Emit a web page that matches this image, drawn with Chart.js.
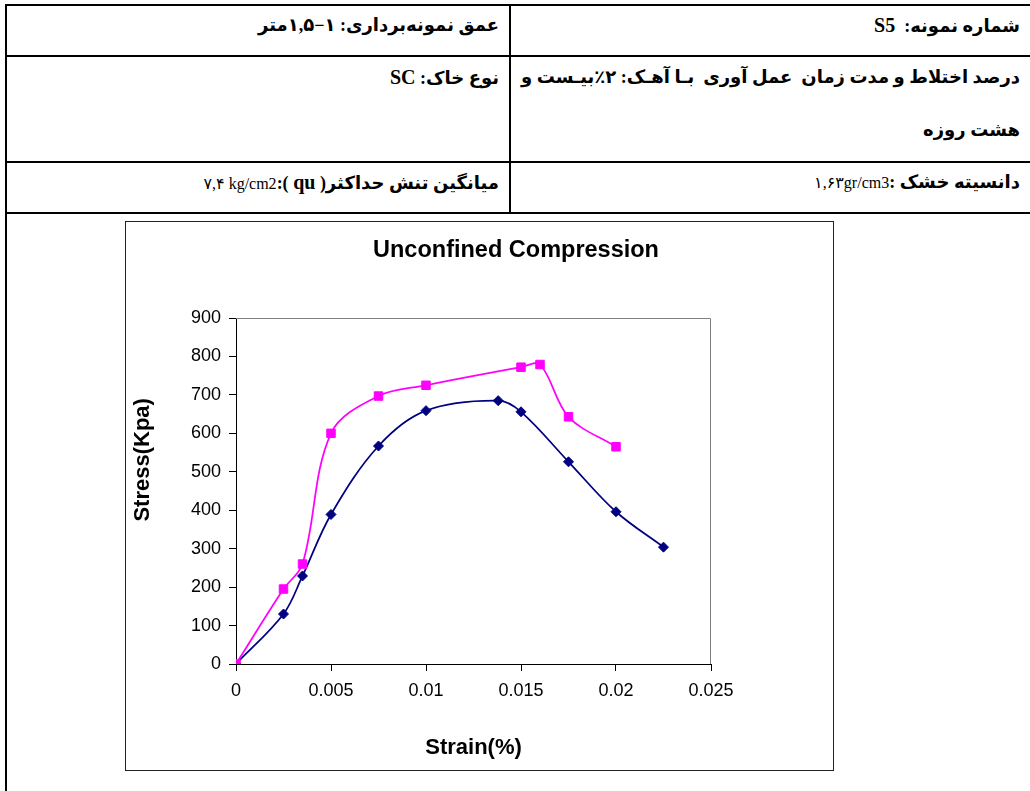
<!DOCTYPE html>
<html lang="fa">
<head>
<meta charset="UTF-8">
<style>
  body { margin: 0; width: 1030px; height: 791px; overflow: hidden; background: #fff; position: relative; }
  .ln { position: absolute; background: #000; }
  .txt { position: absolute; direction: rtl; text-align: right; white-space: nowrap; color: #000;
         font-family: "Liberation Serif", "DejaVu Sans"; font-weight: bold; font-size: 18px; line-height: 24px; }
  .lat { font-size: 20px; }
  .reg { font-weight: normal; font-size: 16px; }
  #frame { position: absolute; left: 125px; top: 221px; width: 707px; height: 548px; border: 1px solid #222; }
  #frame canvas { display: block; }
</style>
</head>
<body>
<script src="https://cdn.jsdelivr.net/npm/chart.js"></script>

<!-- table grid -->
<div class="ln" style="left:5px; top:4px; width:1025px; height:2px"></div>
<div class="ln" style="left:5px; top:55px; width:1025px; height:2px"></div>
<div class="ln" style="left:5px; top:161px; width:1025px; height:2px"></div>
<div class="ln" style="left:5px; top:212px; width:1025px; height:2px"></div>
<div class="ln" style="left:5px; top:4px; width:2px; height:787px"></div>
<div class="ln" style="left:509px; top:4px; width:2px; height:210px"></div>

<!-- table text -->
<div class="txt" style="right:10px; top:13px">شماره نمونه:&nbsp; <span class="lat">S5</span></div>
<div class="txt" style="right:531px; top:13px">عمق نمونه‌برداری: ۱−۱,۵متر</div>
<div class="txt" style="right:10px; top:65px">درصد اختلاط و مدت زمان&nbsp; عمل آوری&nbsp; بـا آهـک: ۲٪بیـست و</div>
<div class="txt" style="right:10px; top:118px">هشت روزه</div>
<div class="txt" style="right:531px; top:65px">نوع خاک: <span class="lat">SC</span></div>
<div class="txt" style="right:10px; top:170px">دانسیته خشک :<span class="reg">۱,۶۳gr/cm3</span></div>
<div class="txt" style="right:531px; top:170px">میانگین تنش حداکثر( <span class="lat">qu</span> ):<span class="reg">۷,۴ kg/cm2</span></div>

<div id="frame"><canvas id="chart" width="707" height="548"></canvas></div>

<script>
    const blueStrain = [0, 0.0025, 0.0035, 0.005, 0.0075, 0.01, 0.0138, 0.015, 0.0175, 0.02, 0.0225];
    const blueStress = [0, 130, 229, 389, 567, 659, 685, 656, 526, 396, 304];
    const pinkStrain = [0, 0.0025, 0.0035, 0.005, 0.0075, 0.01, 0.015, 0.016, 0.0175, 0.02];
    const pinkStress = [0, 195, 260, 600, 697, 725, 772, 779, 643, 565];

    const xTickLabels = ['0', '0.005', '0.01', '0.015', '0.02', '0.025'];
    const yTickLabels = ['0', '100', '200', '300', '400', '500', '600', '700', '800', '900'];

    function toPoints(xs, ys) {
        return xs.map((x, i) => ({x: x, y: ys[i]}));
    }

    const plotBits = {
        id: 'plotBits',
        beforeDatasetsDraw(chart) {
            // grey top/right edge of the plot area
            const {ctx, chartArea: a} = chart;
            ctx.save();
            ctx.strokeStyle = '#808080';
            ctx.lineWidth = 1;
            ctx.beginPath();
            ctx.moveTo(a.left, a.top + 0.5);
            ctx.lineTo(a.right - 0.5, a.top + 0.5);
            ctx.lineTo(a.right - 0.5, a.bottom);
            ctx.stroke();
            ctx.restore();
        },
        afterDraw(chart) {
            const {ctx, chartArea: a} = chart;
            ctx.save();
            ctx.fillStyle = '#000';
            ctx.textAlign = 'center';
            ctx.textBaseline = 'middle';
            // chart title, Excel put it right of the plot centre
            ctx.font = 'bold 23.5px "Liberation Sans"';
            ctx.fillText('Unconfined Compression', 390, 29);
            // y title sits above the middle like in the original
            ctx.translate(17, a.top + (a.bottom - a.top) * 0.41);
            ctx.rotate(-Math.PI / 2);
            ctx.font = 'bold 22px "Liberation Sans"';
            ctx.fillText('Stress(Kpa)', 0, 0);
            ctx.restore();
        }
    };

    Chart.defaults.color = '#000';
    Chart.defaults.font.family = '"Liberation Sans", Arial, sans-serif';

    new Chart(document.getElementById('chart'), {
        type: 'line',
        data: {
            datasets: [
                {
                    label: 'pink',
                    data: toPoints(pinkStrain, pinkStress),
                    borderColor: '#FF00FF',
                    backgroundColor: '#FF00FF',
                    borderWidth: 1.75,
                    pointStyle: 'rect',
                    pointRadius: 6,
                    pointBorderWidth: 1,
                    tension: 0.35
                },
                {
                    label: 'blue',
                    data: toPoints(blueStrain, blueStress),
                    borderColor: '#000080',
                    backgroundColor: '#000080',
                    borderWidth: 1.75,
                    pointStyle: 'rectRot',
                    pointRadius: 5,
                    pointBorderWidth: 1,
                    tension: 0.35
                }
            ]
        },
        options: {
            responsive: false,
            animation: false,
            layout: { padding: { left: 0, right: 122, top: 96, bottom: 0 } },
            plugins: {
                legend: { display: false },
                tooltip: { enabled: false },
                title: { display: false }
            },
            scales: {
                x: {
                    type: 'linear',
                    min: 0,
                    max: 0.025,
                    afterFit: s => { s.height = 106; },
                    grid: { drawOnChartArea: false, tickLength: 7, color: '#000' },
                    border: { color: '#000', width: 1 },
                    ticks: {
                        stepSize: 0.005,
                        padding: 9,
                        font: { size: 18 },
                        callback: (v, i) => xTickLabels[i]
                    },
                    title: {
                        display: true,
                        text: 'Strain(%)',
                        font: { size: 22, weight: 'bold' },
                        padding: { top: 0, bottom: 9 }
                    }
                },
                y: {
                    min: 0,
                    max: 900,
                    afterFit: s => { s.width = 110; },
                    grid: { drawOnChartArea: false, tickLength: 7, color: '#000' },
                    border: { color: '#000', width: 1 },
                    ticks: {
                        stepSize: 100,
                        padding: 8,
                        font: { size: 18 },
                        callback: (v, i) => yTickLabels[i]
                    }
                }
            }
        },
        plugins: [plotBits]
    });
</script>
</body>
</html>
